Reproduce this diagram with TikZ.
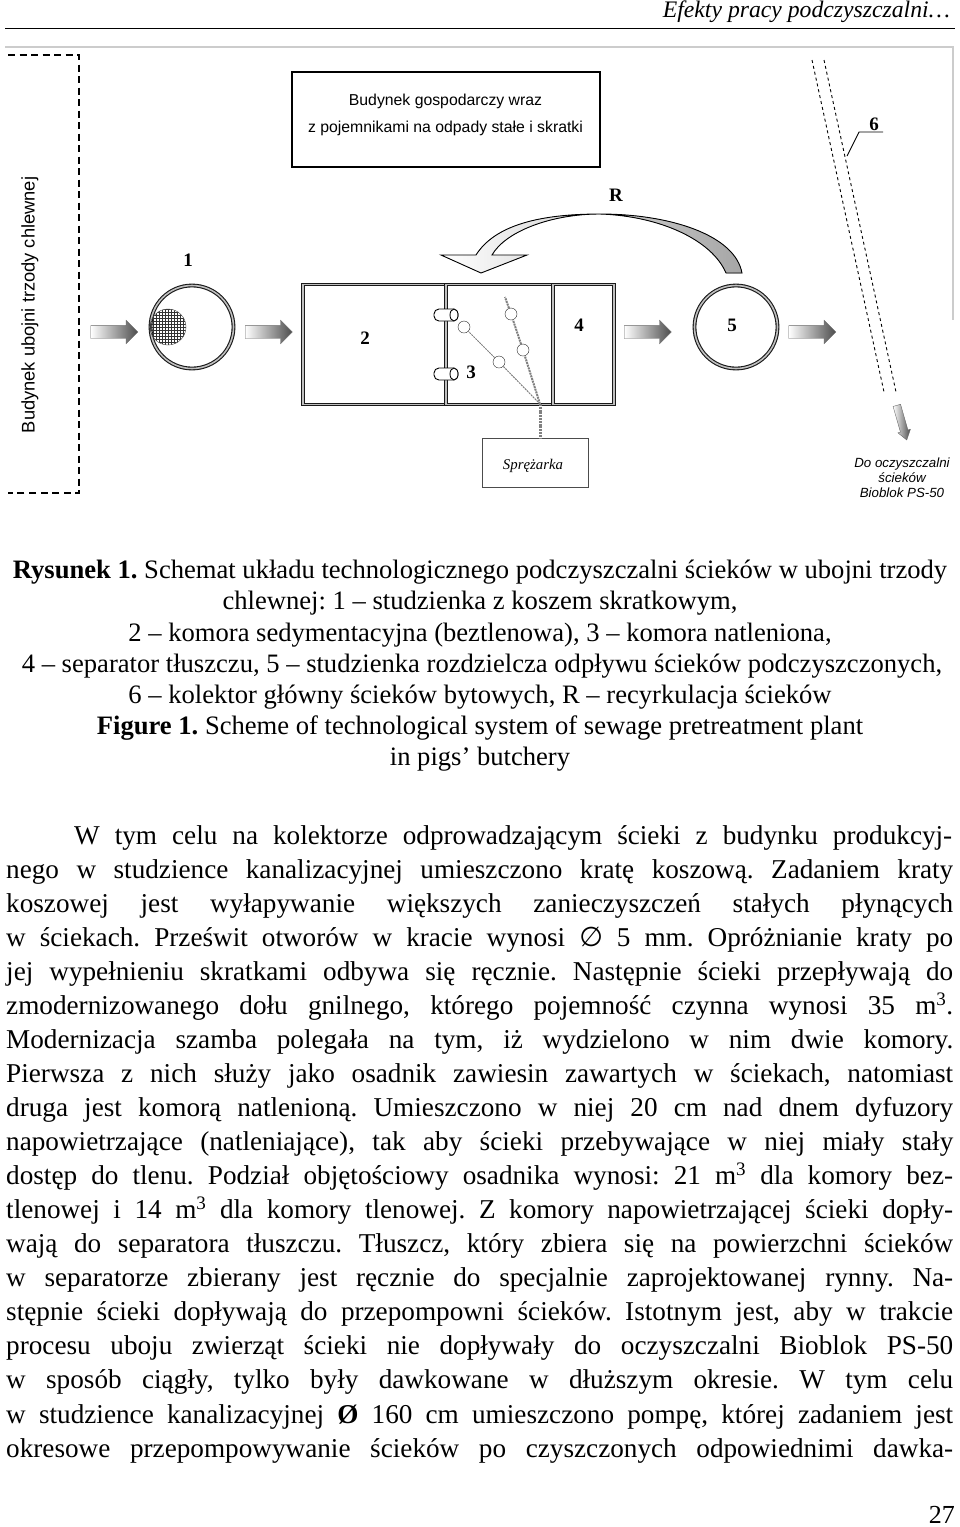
\documentclass[tikz,border=0pt]{standalone}
\usepackage{fontspec}
\setmainfont{Liberation Serif}
\setsansfont{Liberation Sans}
\newfontfamily\symfont{DejaVu Sans}
\usetikzlibrary{shapes.geometric, shapes.arrows, patterns, positioning}
\frenchspacing

\begin{document}
\begin{tikzpicture}[
    x=1pt, y=-1pt,
    wall/.style={draw=black!90, line width=1.1pt, double=gray!50, double distance=1.6pt, minimum height=120pt, inner sep=0pt, outer sep=0pt},
    chamber/.style={wall, circle, minimum size=83pt},
    flow/.style={draw=black!60, single arrow, single arrow head extend=5.25pt, minimum height=47pt, minimum width=23pt, inner sep=6.25pt, shading=axis, left color=white, right color=black!70},
    num/.style={font=\fontsize{19}{22}\selectfont\bfseries, inner sep=0pt},
    caps/.style={font=\sffamily\fontsize{15.8}{18}\selectfont, inner sep=0pt},
    diffuser/.style={circle, draw=black!85, fill=white, minimum size=12pt, inner sep=0pt},
    inlet/.style={draw=black, line width=0.9pt, fill=white, rounded corners=5pt, minimum width=24pt, minimum height=12pt, inner sep=0pt, outer sep=0pt},
    inletcap/.style={ellipse, draw=black, line width=0.9pt, fill=white, minimum width=8pt, minimum height=12pt, inner sep=0pt, outer sep=0pt, anchor=east},
    capline/.style={font=\fontsize{26.6}{30}\selectfont, anchor=base, inner sep=0pt},
    bodyline/.style={font=\fontsize{27.2}{30}\selectfont, anchor=base west, inner sep=0pt},
    airline/.style={draw=black!50, dash pattern=on 2pt off 0.8pt}
]
\useasboundingbox (0,0) rectangle (960,1527);

% Page head
\node[font=\fontsize{23.7}{28}\selectfont\itshape, anchor=base east, inner sep=0pt] (head) at (950,17) {Efekty pracy podczyszczalni\ldots};
\coordinate (ruleL) at (5,28);
\coordinate (ruleR) at (955,28);
\draw[line width=1pt] (ruleL) -- (ruleR);
\draw[black!20, line width=1.2pt] (5,47) -- (953,47) -- (953,320);

% Building on the left
\draw[line width=1.2pt, dash pattern=on 7pt off 4.5pt] (8,55) -- (79,55) -- (79,493) -- (8,493);
\node[caps, rotate=90] (slaughter) at (30,305) {\fontsize{18.3}{20}\selectfont Budynek ubojni trzody chlewnej};

% Farm building
\node[draw, line width=2.4pt, minimum width=308pt, minimum height=95pt, inner sep=0pt, outer sep=0pt] (farm) at (446,119.5) {};
\node[caps] (farmA) at (445.5,101) {Budynek gospodarczy wraz};
\node[caps] (farmB) at (445.5,128) {z pojemnikami na odpady stałe i skratki};

% Sump 1
\node[chamber, fill=white] (sump) at (192,327) {};
\node[circle, draw=black!70, minimum size=36pt, inner sep=0pt, fill=gray!25, pattern=grid, pattern color=black!80] (basket) at (168,327) {};
\node[num] (n1) at (188,260) {1};

% Tank
\node[wall, draw, minimum width=143pt] (tankB) at (374.5,344.5) {};
\node[wall, draw, minimum width=107pt, right=0pt of tankB] (tankC) {};
\node[wall, draw, minimum width=61pt, right=0pt of tankC] (tankD) {};
\node[num] (n2) at (365,338) {2};
\node[num] (n3) at (471,372) {3};
\node[num] (n4) at (579,325) {4};

\node[inlet] (inA) at (446,315) {};
\node[inletcap] (capinA) at (inA.east) {};
\node[inlet] (inB) at (446,374) {};
\node[inletcap] (capinB) at (inB.east) {};

% Aeration
\node[diffuser] (difA) at (464,327) {};
\node[diffuser] (difB) at (499,362) {};
\node[diffuser] (difC) at (523,350) {};
\node[diffuser] (difD) at (511,314) {};
\coordinate (hub) at (540,404);
\coordinate (tip) at (505,297);
\node[draw=black!70, minimum width=106pt, minimum height=49pt, inner sep=0pt, outer sep=0pt] (comp) at (535,462.5) {};
\node[font=\fontsize{14.8}{18}\selectfont\itshape, inner sep=0pt] (compText) at (533,466) {Sprężarka};
\draw[airline, line width=1pt] (hub) -- (difB) -- (difA);
\draw[airline, line width=2pt] (hub) -- (difC) -- (difD) -- (tip);
\draw[airline, line width=3pt] (hub) -- (hub |- comp.north);

% Sump 5
\node[chamber] (pump) at (736,327) {};
\node[num] (n5) at (732,325) {5};

% Recirculation
\fill[left color=white, middle color=white, right color=black!35, draw=black, line width=0.9pt]
    (742,273) .. controls (735,235) and (670,214) .. (600,214)
    .. controls (540,214) and (495,225) .. (476,255) -- (441,255) -- (481,273) -- (527,255) -- (492,255)
    .. controls (505,232) and (550,214) .. (600,214)
    .. controls (660,216) and (712,240) .. (726,273) -- cycle;
\node[num] (nR) at (616,195) {R};

% Flow arrows
\node[flow] (flowA) at (111,332) {};
\node[flow] (flowB) at (265.5,332) {};
\node[flow] (flowC) at (644.5,332) {};
\node[flow] (flowD) at (809,332) {};
\node[flow, minimum height=36pt, minimum width=13pt, inner sep=3.5pt, single arrow head extend=2.5pt, single arrow tip angle=70, rotate=-74] (flowE) at (901,420) {};

% Sewer 6
\draw[line width=0.9pt, dash pattern=on 3pt off 3pt] (812,60) -- (884,392);
\draw[line width=0.9pt, dash pattern=on 3pt off 3pt] (824,60) -- (896,392);
\coordinate (leadA) at (847,156);
\coordinate (leadB) at (859,132);
\coordinate (leadC) at (883,132);
\draw[line width=0.9pt] (leadA) -- (leadB) -- (leadC);
\node[num] (n6) at (874,124) {6};
\node[font=\sffamily\itshape\fontsize{13.3}{15}\selectfont, align=center, inner sep=0pt] (outlet) at (902,478) {Do oczyszczalni\\ścieków\\Bioblok PS-50};

% Caption
\node[capline] (capA) at (480,578) {\textbf{Rysunek 1.} Schemat układu technologicznego podczyszczalni ścieków w ubojni trzody};
\node[capline] (capB) at (480,609) {chlewnej: 1 – studzienka z koszem skratkowym,};
\node[capline] (capC) at (480,641) {2 – komora sedymentacyjna (beztlenowa), 3 – komora natleniona,};
\node[capline] (capD) at (482,672) {4 – separator tłuszczu, 5 – studzienka rozdzielcza odpływu ścieków podczyszczonych,};
\node[capline] (capE) at (480,703) {6 – kolektor główny ścieków bytowych, R – recyrkulacja ścieków};
\node[capline] (capF) at (480,734) {\textbf{Figure 1.} Scheme of technological system of sewage pretreatment plant};
\node[capline] (capG) at (480,765) {in pigs’ butchery};

% Body text
\node[bodyline] (bodyA) at (74,844) {\makebox[878pt][s]{W tym celu na kolektorze odprowadzającym ścieki z budynku produkcyj-}};
\foreach \txt [count=\i from 1] in {
    {nego w studzience kanalizacyjnej umieszczono kratę koszową. Zadaniem kraty},
    {koszowej jest wyłapywanie większych zanieczyszczeń stałych płynących},
    {w ściekach. Prześwit otworów w kracie wynosi {\symfont ∅} 5 mm. Opróżnianie kraty po},
    {jej wypełnieniu skratkami odbywa się ręcznie. Następnie ścieki przepływają do},
    {zmodernizowanego dołu gnilnego, którego pojemność czynna wynosi 35 m\textsuperscript{3}.},
    {Modernizacja szamba polegała na tym, iż wydzielono w nim dwie komory.},
    {Pierwsza z nich służy jako osadnik zawiesin zawartych w ściekach, natomiast},
    {druga jest komorą natlenioną. Umieszczono w niej 20 cm nad dnem dyfuzory},
    {napowietrzające (natleniające), tak aby ścieki przebywające w niej miały stały},
    {dostęp do tlenu. Podział objętościowy osadnika wynosi: 21 m\textsuperscript{3} dla komory bez-},
    {tlenowej i 14 m\textsuperscript{3} dla komory tlenowej. Z komory napowietrzającej ścieki dopły-},
    {wają do separatora tłuszczu. Tłuszcz, który zbiera się na powierzchni ścieków},
    {w separatorze zbierany jest ręcznie do specjalnie zaprojektowanej rynny. Na-},
    {stępnie ścieki dopływają do przepompowni ścieków. Istotnym jest, aby w trakcie},
    {procesu uboju zwierząt ścieki nie dopływały do oczyszczalni Bioblok PS-50},
    {w sposób ciągły, tylko były dawkowane w dłuższym okresie. W tym celu},
    {w studzience kanalizacyjnej \textbf{Ø} 160 cm umieszczono pompę, której zadaniem jest},
    {okresowe przepompowywanie ścieków po czyszczonych odpowiednimi dawka-}}
    \node[bodyline, name=body\i] at (6,{844+34.06*\i}) {\makebox[947pt][s]{\txt}};

% Folio
\node[font=\fontsize{26}{30}\selectfont, anchor=base east, inner sep=0pt] (folio) at (955,1523) {27};
\end{tikzpicture}
\end{document}
